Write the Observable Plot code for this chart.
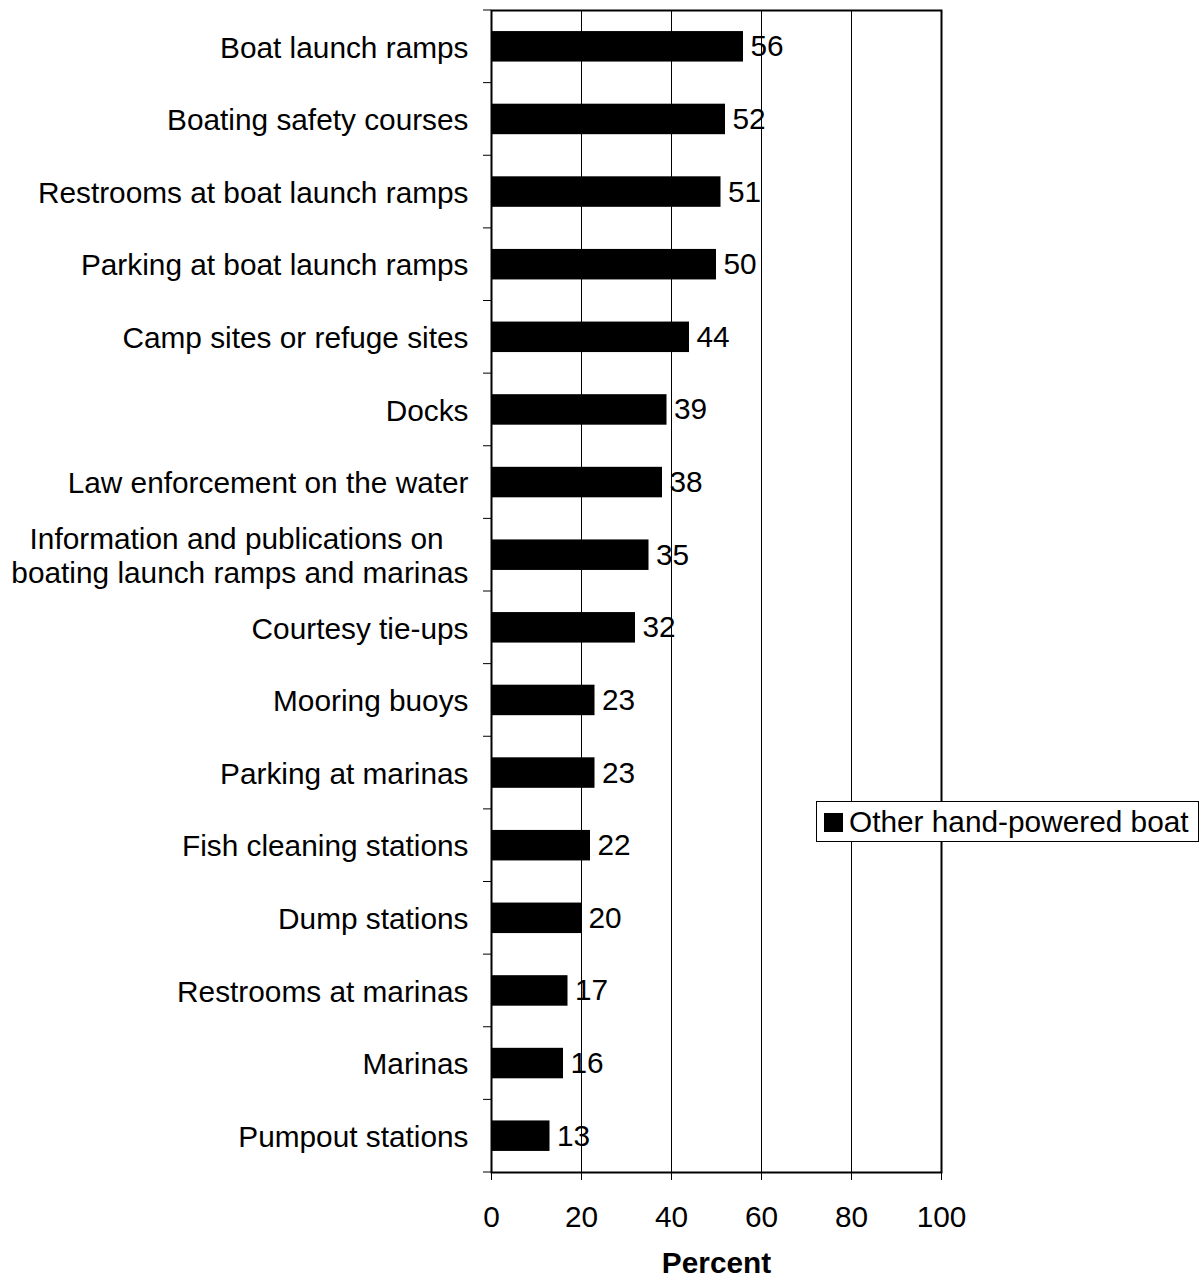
<!DOCTYPE html>
<html>
<head>
<meta charset="utf-8">
<script src="https://cdn.jsdelivr.net/npm/d3@7"></script>
<script src="https://cdn.jsdelivr.net/npm/@observablehq/plot@0.6"></script>
<style>
  html, body { margin: 0; padding: 0; background: #fff; }
  #wrap { position: relative; width: 1200px; height: 1278px; font-family: "Liberation Sans", Arial, sans-serif; }
  #wrap svg { display: block; }
  #legend {
    position: absolute; left: 816px; top: 801px; width: 383px; height: 41px;
    box-sizing: border-box; border: 1px solid #000; background: #fff;
    display: flex; align-items: center; padding-left: 7px;
    font-size: 29.8px; line-height: 1; color: #000; white-space: nowrap;
  }
  #legend .sw { width: 19px; height: 19px; background: #000; flex: none; margin-top: 2px; }
  #legend .lb { margin-left: 6px; }
</style>
</head>
<body>
<div id="wrap"></div>
<script>
// ---- data ----
const categories = [
  "Boat launch ramps",
  "Boating safety courses",
  "Restrooms at boat launch ramps",
  "Parking at boat launch ramps",
  "Camp sites or refuge sites",
  "Docks",
  "Law enforcement on the water",
  "Information and publications on boating launch ramps and marinas",
  "Courtesy tie-ups",
  "Mooring buoys",
  "Parking at marinas",
  "Fish cleaning stations",
  "Dump stations",
  "Restrooms at marinas",
  "Marinas",
  "Pumpout stations"
];
const values = [56, 52, 51, 50, 44, 39, 38, 35, 32, 23, 23, 22, 20, 17, 16, 13];
const tickLabels = [
  "Boat launch ramps",
  "Boating safety courses",
  "Restrooms at boat launch ramps",
  "Parking at boat launch ramps",
  "Camp sites or refuge sites",
  "Docks",
  "Law enforcement on the water",
  "Information and publications on\u00a0\u00a0\u00a0\nboating launch ramps and marinas",
  "Courtesy tie-ups",
  "Mooring buoys",
  "Parking at marinas",
  "Fish cleaning stations",
  "Dump stations",
  "Restrooms at marinas",
  "Marinas",
  "Pumpout stations"
];
const xTicks = [0, 20, 40, 60, 80, 100];
const gridValues = [20, 40, 60, 80];
const seriesName = "Other hand-powered boat";
const xLabel = "Percent";

const rows = categories.map((c, i) => ({category: c, value: values[i]}));
const paddingInner = 0.58;

// left-axis tick marks at band boundaries, positioned via the y scale
function boundaryTicks(index, scales, values, dimensions) {
  const y = scales.y;
  const step = y(categories[1]) - y(categories[0]);
  const top = y(categories[0]) - step * paddingInner / 2;
  const x0 = dimensions.marginLeft;
  const g = d3.create("svg:g").attr("stroke", "#000").attr("stroke-width", 1);
  for (let k = 0; k <= categories.length; ++k) {
    const yy = top + k * step;
    g.append("line").attr("x1", x0 - 8).attr("x2", x0).attr("y1", yy).attr("y2", yy);
  }
  return g.node();
}

const chart = Plot.plot({
  width: 1200,
  height: 1278,
  marginLeft: 491,
  marginRight: 259,
  marginTop: 10,
  marginBottom: 106,
  style: {fontFamily: "'Liberation Sans', Arial, sans-serif", fontSize: "29.8px", background: "#fff", color: "#000"},
  x: {domain: [0, 100]},
  y: {domain: categories, paddingInner: paddingInner, paddingOuter: paddingInner / 2, round: false},
  marks: [
    Plot.ruleX(gridValues, {stroke: "#000", strokeWidth: 1}),
    Plot.barX(rows, {x: "value", y: "category", fill: "#000"}),
    Plot.text(rows, {x: "value", y: "category", text: d => String(d.value), textAnchor: "start", dx: 7, fill: "#000"}),
    Plot.frame({stroke: "#000", strokeWidth: 2}),
    Plot.axisX({ticks: xTicks, tickSize: 8, tickPadding: 25, label: null, tickFormat: d => String(d)}),
    Plot.axisY({tickSize: 0, tickPadding: 23, label: null, tickFormat: d => tickLabels[categories.indexOf(d)], lineHeight: 1.12}),
    boundaryTicks,
    Plot.text([xLabel], {frameAnchor: "bottom", text: d => d, dy: 91, fontWeight: "bold", lineAnchor: "middle", fill: "#000"})
  ]
});

const wrap = document.getElementById("wrap");
wrap.appendChild(chart);
const legend = document.createElement("div");
legend.id = "legend";
legend.innerHTML = '<span class="sw"></span><span class="lb"></span>';
legend.querySelector(".lb").textContent = seriesName;
wrap.appendChild(legend);
</script>
</body>
</html>
